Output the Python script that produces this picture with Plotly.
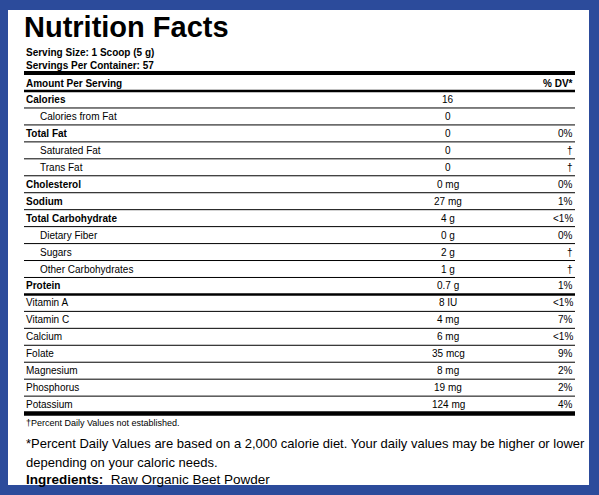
import plotly.graph_objects as go

nutrients = ["Calories", "Calories from Fat", "Total Fat", "Saturated Fat", "Trans Fat", "Cholesterol",
             "Sodium", "Total Carbohydrate", "Dietary Fiber", "Sugars", "Other Carbohydrates", "Protein",
             "Vitamin A", "Vitamin C", "Calcium", "Folate", "Magnesium", "Phosphorus", "Potassium"]
amounts = ["16", "0", "0", "0", "0", "0 mg", "27 mg", "4 g", "0 g", "2 g", "1 g", "0.7 g",
           "8 IU", "4 mg", "6 mg", "35 mcg", "8 mg", "19 mg", "124 mg"]
dv = ["", "", "0%", "†", "†", "0%", "1%", "<1%", "0%", "†", "†", "1%",
      "<1%", "7%", "<1%", "9%", "2%", "2%", "4%"]
bold = [True, False, True, False, False, True, True, True, False, False, False, True,
        False, False, False, False, False, False, False]
indent = [False, True, False, True, True, False, False, False, True, True, True, False,
          False, False, False, False, False, False, False]

FONT = "Liberation Sans, Arial"
fig = go.Figure()
shapes = []
ann = []
L, R = 24, 575

def line(y, w):
    shapes.append(dict(type="line", x0=L, x1=R, y0=y, y1=y, line=dict(color="black", width=w), layer="above"))

def txt(x, y, s, size=10, b=False, anchor="left"):
    ann.append(dict(x=x, y=y, text=f"<b>{s}</b>" if b else s, showarrow=False, xanchor=anchor,
                    yanchor="middle", font=dict(size=size, color="black", family=FONT)))

shapes.append(dict(type="rect", x0=0, x1=599, y0=0, y1=495, fillcolor="#2c4b9b", line=dict(width=0), layer="below"))
shapes.append(dict(type="rect", x0=8, x1=589, y0=10, y1=485, fillcolor="white", line=dict(width=0), layer="below"))

txt(22, 27, "Nutrition Facts", size=29, b=True)
txt(24, 52, "Serving Size: 1 Scoop (5 g)", size=10, b=True)
txt(24, 65, "Servings Per Container: 57", size=10, b=True)
line(73, 4)
txt(24, 83, "Amount Per Serving", size=10, b=True)
txt(R, 83, "% DV*", size=10, b=True, anchor="right")
line(91, 2.5)

y0, h = 99.5, 16.95
for i, n in enumerate(nutrients):
    y = y0 + i * h
    txt(L + (14 if indent[i] else 0), y, n, size=10, b=bold[i])
    txt(448, y, amounts[i], size=10, anchor="center")
    if dv[i]:
        txt(R, y, dv[i], size=10, anchor="right")
    ly = y + h / 2
    if i == len(nutrients) - 1:
        line(ly + 0.5, 4.5)
    elif n == "Protein":
        line(ly, 2.5)
    else:
        line(ly, 1)

txt(24, 423, "†Percent Daily Values not established.", size=9)
txt(24, 443, "*Percent Daily Values are based on a 2,000 calorie diet. Your daily values may be higher or lower", size=13)
txt(24, 462, "depending on your caloric needs.", size=13)
txt(24, 479, "<b>Ingredients:</b>  Raw Organic Beet Powder", size=13.5)

fig.update_layout(width=599, height=495, margin=dict(l=0, r=0, t=0, b=0), shapes=shapes, annotations=ann,
                  plot_bgcolor="white", paper_bgcolor="#2c4b9b", showlegend=False,
                  xaxis=dict(range=[0, 599], visible=False, fixedrange=True),
                  yaxis=dict(range=[495, 0], visible=False, fixedrange=True))
fig.write_html("out.html", config={"displayModeBar": False})

with open("out.html", encoding="utf-8") as f:
    html = f.read()
html = html.replace("<head>", "<head><style>html,body{margin:0;padding:0;overflow:hidden;background:#2c4b9b}</style>", 1)
with open("out.html", "w", encoding="utf-8") as f:
    f.write(html)
